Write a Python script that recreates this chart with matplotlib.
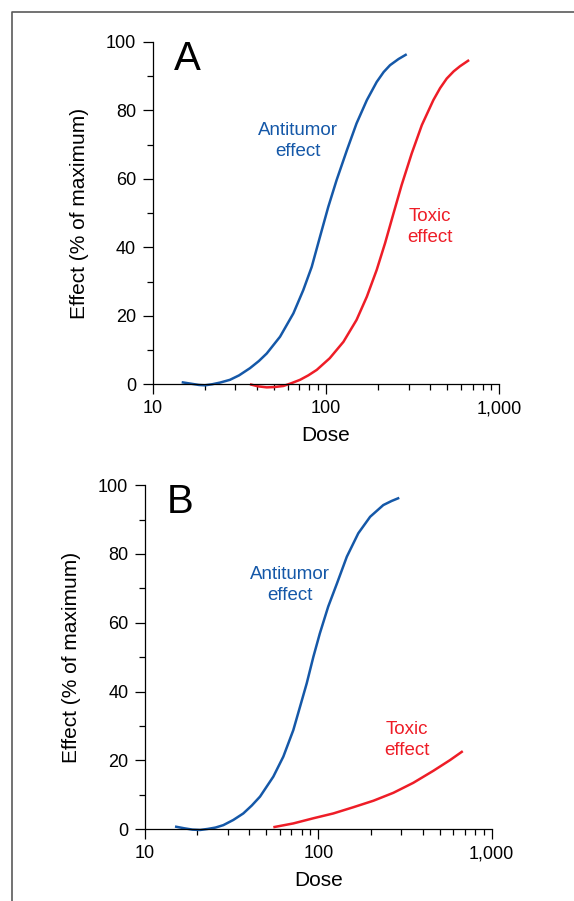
"""两幅剂量-效应曲线图：抗肿瘤效应与毒性效应（对数剂量坐标）。"""

import matplotlib

matplotlib.use("Agg")

import matplotlib.pyplot as plt
from matplotlib.lines import Line2D
from matplotlib.ticker import FixedLocator, FuncFormatter, LogLocator, MultipleLocator, NullFormatter

plt.rcParams["font.family"] = ["Liberation Sans", "DejaVu Sans"]

# ======================================================================
# 数据：曲线点（剂量, 效应%）
# ======================================================================

# 图A：抗肿瘤效应
dose_a_antitumor = [14.7, 16.5, 18.5, 20, 22, 24.5, 27.9, 31.5, 36.4, 41, 45.5,
                    54.3, 64.8, 73.9, 82.7, 92.3, 103, 115, 132, 150, 172, 196,
                    215, 234, 262, 292]
effect_a_antitumor = [0.6, 0.2, -0.2, -0.3, 0.0, 0.5, 1.3, 2.6, 4.7, 6.8, 9.0,
                      13.9, 20.7, 27.5, 34.3, 43.1, 51.8, 59.6, 68.4, 76.2, 83.0,
                      88.3, 91.2, 93.2, 95.0, 96.4]

# 图A：毒性效应
dose_a_toxic = [36.4, 40.5, 45.5, 50.5, 56.7, 63, 70.8, 79, 88.4, 105, 126, 150,
                172, 196, 219, 245, 273, 312, 357, 416, 455, 497, 545, 593, 669]
effect_a_toxic = [0.0, -0.6, -0.9, -0.8, -0.5, 0.3, 1.3, 2.6, 4.2, 7.6, 12.4, 18.8,
                  25.6, 33.4, 41.2, 49.9, 58.2, 67.4, 75.7, 83.0, 86.5, 89.3, 91.4,
                  92.9, 94.7]

# 图B：抗肿瘤效应
dose_b_antitumor = [14.9, 16.8, 18.8, 20.8, 23, 25.5, 28.3, 32.3, 36.9, 41.3, 46.1,
                    55, 62.8, 71.7, 78.4, 85.7, 93.6, 102, 114, 128, 146, 170, 199,
                    237, 265, 293]
effect_b_antitumor = [0.8, 0.3, -0.1, -0.2, 0.1, 0.5, 1.2, 2.7, 4.6, 6.9, 9.5,
                      15.3, 21.1, 28.8, 35.6, 42.4, 50.1, 56.9, 64.7, 71.4, 79.2,
                      86.0, 90.8, 94.2, 95.4, 96.3]

# 图B：毒性效应
dose_b_toxic = [55, 71.7, 93.6, 122, 159, 208, 271, 353, 461, 575, 681]
effect_b_toxic = [0.6, 1.7, 3.2, 4.6, 6.4, 8.3, 10.6, 13.5, 17.0, 20.1, 22.7]

# 坐标轴刻度
x_major_ticks = [10, 100, 1000]
y_major_ticks = [0, 20, 40, 60, 80, 100]

BLUE = "#1558a8"
RED = "#ee1d27"


def draw_panel(ax, letter, dose_anti, effect_anti, dose_tox, effect_tox,
               anti_label_pos, tox_label_pos, letter_pos):
    """绘制一幅剂量-效应曲线。"""

    ax.plot(dose_anti, effect_anti, color=BLUE, lw=1.8, clip_on=False,
            solid_capstyle="butt", solid_joinstyle="round")
    ax.plot(dose_tox, effect_tox, color=RED, lw=1.8, clip_on=False,
            solid_capstyle="butt", solid_joinstyle="round")

    ax.set_xscale("log")
    ax.set_xlim(10, 1000)
    ax.set_ylim(0, 100)

    # 只保留左、下两条轴线
    for side in ("top", "right"):
        ax.spines[side].set_visible(False)
    for side in ("left", "bottom"):
        ax.spines[side].set_linewidth(0.9)

    ax.xaxis.set_major_locator(FixedLocator(x_major_ticks))
    ax.xaxis.set_major_formatter(FuncFormatter(lambda v, _: f"{v:,.0f}"))
    ax.xaxis.set_minor_locator(LogLocator(base=10, subs=range(2, 10)))
    ax.xaxis.set_minor_formatter(NullFormatter())

    ax.yaxis.set_major_locator(FixedLocator(y_major_ticks))
    ax.yaxis.set_minor_locator(MultipleLocator(10))

    ax.tick_params(axis="both", which="major", length=7, width=0.9,
                   labelsize=13, color="black")
    ax.tick_params(axis="both", which="minor", length=4.3, width=0.9)
    ax.tick_params(axis="x", which="major", pad=4.5)
    ax.tick_params(axis="y", which="major", pad=5)

    ax.set_xlabel("Dose", fontsize=15)
    ax.set_ylabel("Effect (% of maximum)", fontsize=15)
    ax.xaxis.set_label_coords(0.5, -0.121)
    ax.yaxis.set_label_coords(-0.185, 0.5)

    # 曲线旁的文字说明
    ax.text(anti_label_pos[0], anti_label_pos[1], "Antitumor\neffect",
            color=BLUE, fontsize=13.5, ha="center", va="center",
            linespacing=1.3)
    ax.text(tox_label_pos[0], tox_label_pos[1], "Toxic\neffect",
            color=RED, fontsize=13.5, ha="center", va="center",
            linespacing=1.3)

    # 面板字母
    ax.text(letter_pos[0], letter_pos[1], letter, transform=ax.transAxes,
            fontsize=29, ha="left", va="baseline")


fig = plt.figure(figsize=(5.74, 9.01), dpi=100)

ax_a = fig.add_axes([0.266, 0.5735, 0.604, 0.380])
draw_panel(ax_a, "A", dose_a_antitumor, effect_a_antitumor,
           dose_a_toxic, effect_a_toxic,
           anti_label_pos=(69, 71), tox_label_pos=(398, 46),
           letter_pos=(0.062, 0.919))

ax_b = fig.add_axes([0.2526, 0.0796, 0.604, 0.382])
draw_panel(ax_b, "B", dose_b_antitumor, effect_b_antitumor,
           dose_b_toxic, effect_b_toxic,
           anti_label_pos=(69, 71), tox_label_pos=(324, 26),
           letter_pos=(0.062, 0.918))

# 外框：只有上边和左边
bx = 12 / 574
by = 1 - 12 / 901
fig.add_artist(Line2D([bx, bx, 1.0], [0.0, by, by], transform=fig.transFigure,
                      color="#5a5a5a", lw=1.2))

fig.savefig("out.png", dpi=100)
